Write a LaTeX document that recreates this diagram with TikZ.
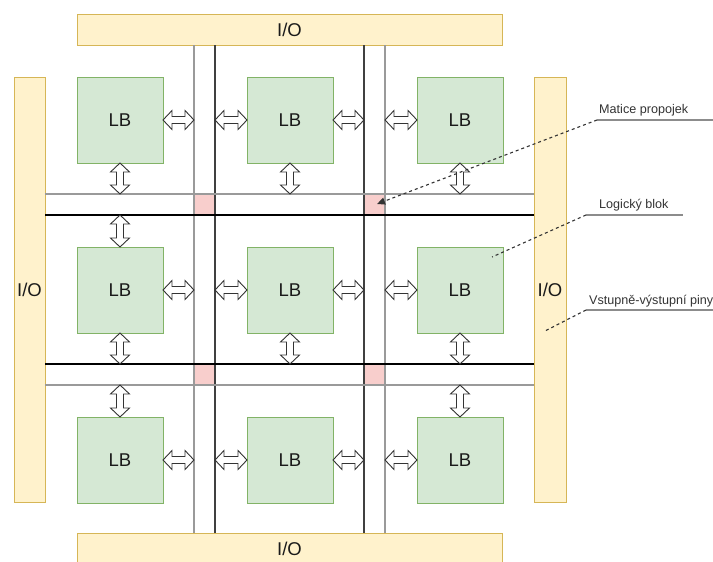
\documentclass[tikz,border=0pt]{standalone}
\usepackage{fontspec}
\setmainfont{Liberation Sans}
\usetikzlibrary{arrows.meta}
\definecolor{lbfill}{HTML}{D5E8D4}
\definecolor{lbdraw}{HTML}{82B366}
\definecolor{iofill}{HTML}{FFF2CC}
\definecolor{iodraw}{HTML}{D6B656}
\definecolor{swfill}{HTML}{F8CECC}
\definecolor{swdraw}{HTML}{EDA8A8}
\definecolor{txt}{HTML}{1A1A1A}
\definecolor{note}{HTML}{333333}
\definecolor{wirelight}{HTML}{9A9A9A}
\definecolor{wiredark}{HTML}{404040}
\newcommand\harrow[3]{\draw[blockarr] (#1,#3) -- (#1+9,#3-9.5) -- (#1+9,#3-3.5) -- (#2-9,#3-3.5) -- (#2-9,#3-9.5) -- (#2,#3) -- (#2-9,#3+9.5) -- (#2-9,#3+3.5) -- (#1+9,#3+3.5) -- (#1+9,#3+9.5) -- cycle;}
\newcommand\varrow[3]{\draw[blockarr] (#3,#1) -- (#3-9.5,#1+9) -- (#3-3.5,#1+9) -- (#3-3.5,#2-9) -- (#3-9.5,#2-9) -- (#3,#2) -- (#3+9.5,#2-9) -- (#3+3.5,#2-9) -- (#3+3.5,#1+9) -- (#3+9.5,#1+9) -- cycle;}
\begin{document}
\begin{tikzpicture}[x=1pt,y=-1pt,
  lbbox/.style={draw=lbdraw,fill=lbfill,line width=1pt,minimum width=86pt,minimum height=86pt,inner sep=0pt,font=\fontsize{18.5}{20}\selectfont,text=txt},
  iobar/.style={draw=iodraw,fill=iofill,line width=1pt,inner sep=0pt,font=\fontsize{18.5}{20}\selectfont,text=txt},
  swbox/.style={draw=swdraw,fill=swfill,line width=1pt,minimum width=21pt,minimum height=21pt,inner sep=0pt},
  wirel/.style={draw=wirelight,line width=1.3pt},
  wired/.style={draw=wiredark,line width=1.3pt},
  wireb/.style={draw=black,line width=1.3pt},
  blockarr/.style={draw=note,fill=white,line width=0.9pt,line join=miter},
  notetext/.style={anchor=base west,inner sep=0pt,text=note,font=\fontsize{12.6}{14}\selectfont},
  underl/.style={draw=gray!90,line width=1.4pt},
  leader/.style={draw=note,line width=1.1pt,dash pattern=on 3pt off 3pt}]
\useasboundingbox (0,0) rectangle (713,562);
% I/O bars
\node[iobar,minimum width=425pt,minimum height=31pt] (iotop) at (289.5,29.5) {I/O};
\node[iobar,minimum width=425pt,minimum height=31pt] (iobot) at (289.5,549) {I/O};
\node[iobar,minimum width=31pt,minimum height=425pt] (ioleft) at (29.5,289.5) {I/O};
\node[iobar,minimum width=32pt,minimum height=425pt] (ioright) at (550,289.5) {I/O};
% switch matrices
\node[swbox] (sw11) at (204.5,204.5) {};
\node[swbox] (sw12) at (374.5,204.5) {};
\node[swbox] (sw21) at (204.5,374.5) {};
\node[swbox] (sw22) at (374.5,374.5) {};
% routing wires
\coordinate (vt1) at (194,45);  \coordinate (vb1) at (194,533);
\coordinate (vt2) at (215,45);  \coordinate (vb2) at (215,533);
\coordinate (vt3) at (364,45);  \coordinate (vb3) at (364,533);
\coordinate (vt4) at (385,45);  \coordinate (vb4) at (385,533);
\coordinate (hl1) at (45,194);  \coordinate (hr1) at (534,194);
\coordinate (hl2) at (45,215);  \coordinate (hr2) at (534,215);
\coordinate (hl3) at (45,364);  \coordinate (hr3) at (534,364);
\coordinate (hl4) at (45,385);  \coordinate (hr4) at (534,385);
\draw[wirel] (vt1) -- (vb1);
\draw[wired] (vt2) -- (vb2);
\draw[wired] (vt3) -- (vb3);
\draw[wirel] (vt4) -- (vb4);
\draw[wirel] (hl1) -- (hr1);
\draw[wireb] (hl2) -- (hr2);
\draw[wireb] (hl3) -- (hr3);
\draw[wirel] (hl4) -- (hr4);
% logic blocks
\foreach \r/\y in {1/120,2/290,3/460}{
  \foreach \c/\x in {1/120,2/290,3/460}{
    \node[lbbox] (lb\r\c) at (\x,\y) {LB};
  }
}
% horizontal block arrows
\foreach \y in {120,290,460}{
  \harrow{163}{194}{\y}
  \harrow{215}{247}{\y}
  \harrow{333}{364}{\y}
  \harrow{385}{417}{\y}
}
% vertical block arrows
\foreach \x in {120,290,460}{
  \varrow{163}{194}{\x}
  \varrow{333}{364}{\x}
}
\varrow{215}{247}{120}
\varrow{385}{417}{120}
\varrow{385}{417}{460}
% annotations
\node[notetext] (n1) at (599,113) {Matice propojek};
\node[notetext] (n2) at (599,208) {Logický blok};
\node[notetext] (n3) at (589,304) {Vstupně-výstupní piny};
\coordinate (u1a) at (597,120); \coordinate (u1b) at (713,120);
\coordinate (u2a) at (586,215); \coordinate (u2b) at (683,215);
\coordinate (u3a) at (586,310); \coordinate (u3b) at (713,310);
\draw[underl] (u1a) -- (u1b);
\draw[underl] (u2a) -- (u2b);
\draw[underl] (u3a) -- (u3b);
\coordinate (t1) at (377,204);
\coordinate (t2) at (492,257);
\coordinate (t3) at (545,331);
\draw[leader,-{Triangle[length=8pt,width=7pt]}] (u1a) -- (t1);
\draw[leader] (u2a) -- (t2);
\draw[leader] (u3a) -- (t3);
\end{tikzpicture}
\end{document}
